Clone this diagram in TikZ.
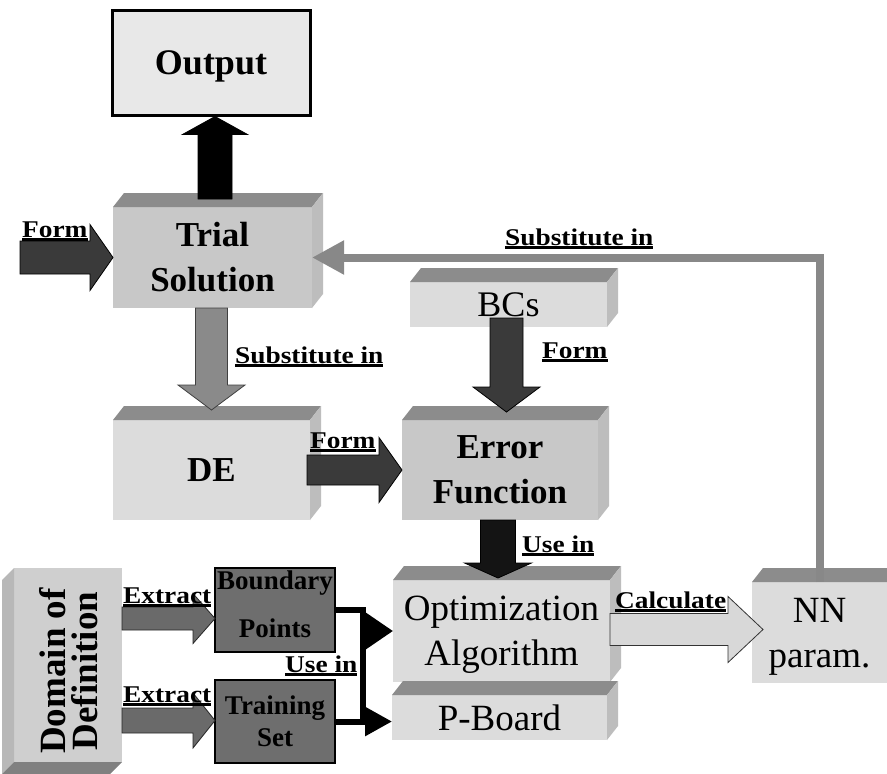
\documentclass[tikz,border=0pt]{standalone}
\usepackage{fontspec}
\setmainfont{Liberation Serif}
\usepackage{graphicx}
\usetikzlibrary{calc,arrows.meta}
\definecolor{boxlight}{HTML}{DCDCDC}
\definecolor{boxmid}{HTML}{C8C8C8}
\definecolor{topgray}{HTML}{8C8C8C}
\definecolor{sidegray}{HTML}{BDBDBD}
\definecolor{darkarrow}{HTML}{3A3A3A}
\definecolor{midarrow}{HTML}{8A8A8A}
\definecolor{extgray}{HTML}{6A6A6A}
\definecolor{calcgray}{HTML}{D8D8D8}
\definecolor{linegray}{HTML}{888888}
\definecolor{flatgray}{HTML}{6E6E6E}

\newcommand\ulab[1]{\scalebox{1.14}[1]{\setbox0\hbox{#1}\rlap{\rule[-3.5pt]{\wd0}{2.2pt}}\box0}}

% 3D box: name, center, width, height, extra style, text
\newcommand\cube[6]{%
 \node[frontface,minimum width=#3,minimum height=#4,#5] (#1) at #2 {#6};
 \fill[topgray] (#1.north west) -- ++(11,-14) -- ([shift={(11,-14)}]#1.north east) -- (#1.north east) -- cycle;
 \fill[sidegray] (#1.north east) -- ++(11,-14) -- ([shift={(11,-14)}]#1.south east) -- (#1.south east) -- cycle;}

% block arrows: from, tip, shaft half, head half, head length, style
\newcommand\rarrow[6]{%
 \path[#6] let \p1=#1, \p2=#2 in
 (\x1,\y2+#3) -- (\x2-#5,\y2+#3) -- (\x2-#5,\y2+#4) -- (\x2,\y2) -- (\x2-#5,\y2-#4) -- (\x2-#5,\y2-#3) -- (\x1,\y2-#3) -- cycle;}
\newcommand\darrow[6]{%
 \path[#6] let \p1=#1, \p2=#2 in
 (\x2-#3,\y1) -- (\x2-#3,\y2+#5) -- (\x2-#4,\y2+#5) -- (\x2,\y2) -- (\x2+#4,\y2+#5) -- (\x2+#3,\y2+#5) -- (\x2+#3,\y1) -- cycle;}
\newcommand\uarrow[6]{%
 \path[#6] let \p1=#1, \p2=#2 in
 (\x2-#3,\y1) -- (\x2-#3,\y2-#5) -- (\x2-#4,\y2-#5) -- (\x2,\y2) -- (\x2+#4,\y2-#5) -- (\x2+#3,\y2-#5) -- (\x2+#3,\y1) -- cycle;}

\tikzset{
 frontface/.style={fill=boxlight, inner sep=0pt, outer sep=0pt, align=center},
 boldbig/.style={font=\bfseries\fontsize{35}{45}\selectfont},
 regbig/.style={font=\fontsize{37}{45}\selectfont},
 lab/.style={inner sep=0pt, anchor=base west, font=\bfseries\fontsize{24}{26}\selectfont},
 formarrow/.style={fill=darkarrow, draw=black, line width=0.8pt},
 blackarrow/.style={fill=black, draw=black, line width=0.8pt},
 grayarrow/.style={fill=midarrow, draw=black!75, line width=0.8pt},
 extractarrow/.style={fill=extgray, draw=black!85, line width=0.8pt},
 calcarrow/.style={fill=calcgray, draw=black!80, line width=0.8pt},
 flatbox/.style={fill=flatgray, draw=black, line width=1.5pt, inner sep=0pt, outer sep=0pt, align=center, font=\bfseries\fontsize{27}{32}\selectfont},
 useline/.style={draw=black, line width=6pt},
}

\begin{document}
\begin{tikzpicture}[x=1pt,y=-1pt]
\fill[white] (0,0) rectangle (887,774);
\useasboundingbox (0,0) rectangle (887,774);

% Output
\node[draw=black, line width=3pt, fill=black!9, minimum width=198pt, minimum height=105pt, inner sep=0pt, text depth=0pt,
      font=\bfseries\fontsize{36}{40}\selectfont] (Output) at (211,62.5) {Output};

% 3D boxes
\cube{Trial}{(212.5,257.5)}{199pt}{101pt}{fill=boxmid,boldbig}{Trial\\Solution}
\cube{BCs}{(508.5,304.5)}{197pt}{45pt}{font=\fontsize{36}{40}\selectfont}{BCs}
\cube{DE}{(211.5,470)}{197pt}{100pt}{boldbig}{DE}
\cube{Error}{(500,470)}{196pt}{100pt}{fill=boxmid,boldbig,text depth=-4pt}{Error\\Function}
\cube{Opt}{(501.5,631)}{217pt}{102pt}{regbig,text depth=0pt}{Optimization\\Algorithm}
\cube{PB}{(499.5,717.5)}{215pt}{45pt}{regbig}{P-Board}
\cube{NN}{(819.5,632.5)}{135pt}{101pt}{regbig,text depth=0pt}{NN\\param.}

% Domain of Definition (extruded down-left)
\node[frontface, fill=black!19, minimum width=108pt, minimum height=194pt] (Domain) at (68,665) {};
\fill[black!28] (Domain.north west) -- ++(-12,12) -- ([shift={(-12,12)}]Domain.south west) -- (Domain.south west) -- cycle;
\fill[black!50] (Domain.south west) -- (Domain.south east) -- ++(-12,12) -- ([shift={(-12,12)}]Domain.south west) -- cycle;
\node[rotate=90, align=center, inner sep=0pt, font=\bfseries\fontsize{37}{32}\selectfont] (DomText) at (69,671) {Domain of\\Definition};

% flat dark boxes
\node[flatbox, minimum width=120pt, minimum height=84pt] (BP) at (275,610) {};
\node[inner sep=0pt, align=center, font=\bfseries\fontsize{27}{48}\selectfont] (BPText) at (275,604) {Boundary\\Points};
\node[flatbox, minimum width=120pt, minimum height=83pt] (TS) at (275,721.5) {Training\\Set};

% feedback line
\draw[draw=linegray, line width=8pt, -{Triangle[length=32pt,width=32pt]}] (NN.north) |- (Trial.east);

% block arrows
\coordinate (formstart) at (20,258);
\rarrow{(formstart)}{(Trial.west)}{16.5pt}{33pt}{23pt}{formarrow}
\uarrow{($(Trial.north)+(2.5,-8)$)}{($(Output.south)+(4,0)$)}{17pt}{32.5pt}{18pt}{blackarrow}
\darrow{(Trial.south)}{($(DE.north)+(0,-10)$)}{16pt}{33.5pt}{25pt}{grayarrow}
\rarrow{($(DE.east)+(-3,0)$)}{(Error.west)}{15pt}{32.5pt}{23pt}{formarrow}
\darrow{($(BCs.south)+(0,-9)$)}{($(Error.north)+(6.5,-8)$)}{16.5pt}{33.5pt}{25pt}{formarrow}
\darrow{(Error.south)}{($(Opt.north)+(-3.5,-2)$)}{17.5pt}{33.5pt}{15pt}{fill=black!92,draw=black,line width=0.8pt}
\rarrow{(Opt.east)}{($(NN.west)+(11,-3)$)}{16pt}{33pt}{35pt}{calcarrow}
\rarrow{(Domain.east)}{($(BP.west)+(0,8.5)$)}{11.5pt}{25pt}{22pt}{extractarrow}
\rarrow{(Domain.east)}{($(TS.west)+(0,-1)$)}{12.5pt}{27.5pt}{22pt}{extractarrow}

% use-in connectors
\coordinate (junc) at ($(TS.east)+(28,0)$);
\draw[useline] (BP.east) -| (junc) -- (TS.east);
\draw[useline, -{Triangle[length=27pt,width=35pt]}] (junc |- Opt.west) -- (Opt.west);
\draw[useline, -{Triangle[length=27pt,width=28pt]}] (junc) -- (PB.west |- junc);

% labels
\node[lab] (lformA) at (22,237) {\ulab{Form}};
\node[lab] (lsubA) at (235,363) {\ulab{Substitute in}};
\node[lab] (lsubB) at (505,245) {\ulab{Substitute in}};
\node[lab] (lformB) at (310,448) {\ulab{Form}};
\node[lab] (lformC) at (542,358) {\ulab{Form}};
\node[lab] (luseA) at (522,552) {\ulab{Use in}};
\node[lab] (lcalc) at (615,608) {\ulab{Calculate}};
\node[lab] (lextA) at (123,603) {\ulab{Extract}};
\node[lab] (lextB) at (123,702) {\ulab{Extract}};
\node[lab] (luseB) at (285,672) {\ulab{Use in}};
\end{tikzpicture}
\end{document}
